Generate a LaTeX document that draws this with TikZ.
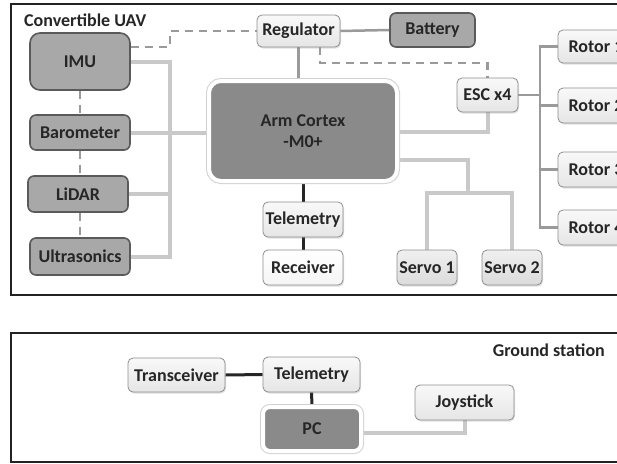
\documentclass[tikz,border=0pt]{standalone}
\usepackage{fontspec}
\setmainfont{Carlito}
\usetikzlibrary{backgrounds,shadows,calc}
\definecolor{midfill}{HTML}{A8A8A8}
\definecolor{midline}{HTML}{5A5A5A}
\definecolor{lightline}{HTML}{8E8E8E}
\definecolor{busc}{HTML}{C9C9C9}
\definecolor{wirec}{HTML}{9A9A9A}
\definecolor{corec}{HTML}{8A8A8A}
\definecolor{ink}{HTML}{262626}
\definecolor{framec}{HTML}{222222}
\tikzset{
  lbl/.style={font=\fontsize{18}{20.5}\selectfont\bfseries, text=ink, align=center, inner sep=0pt},
  midbox/.style={lbl, rounded corners=6pt, fill=midfill, draw=midline, line width=1.6pt},
  lightbox/.style={lbl, rounded corners=5pt, top color=white!95!gray, bottom color=white!80!gray, draw=lightline, line width=0.8pt,
    drop shadow={shadow xshift=1pt, shadow yshift=-1.5pt, opacity=0.25}},
  servobox/.style={lightbox, top color=white!88!gray, bottom color=white!72!gray},
  recbox/.style={lightbox, top color=white, bottom color=white!92!gray},
  corebox/.style={lbl, rounded corners=12pt, fill=corec, draw=white, line width=4pt,
    preaction={draw=gray!35, line width=6pt}},
  lightbus/.style={draw=busc, line width=4pt},
  graywire/.style={draw=wirec, line width=2.5pt},
  dashwire/.style={draw=wirec, line width=2.6pt, dash pattern=on 8pt off 6pt},
  blackwire/.style={draw=ink, line width=3pt},
  framebox/.style={draw=framec, line width=2.4pt},
}
\begin{document}
\begin{tikzpicture}[x=1pt,y=-1pt]
\useasboundingbox (0,0) rectangle (617,463);
\clip (0,0) rectangle (617,463);
% frames
\draw[framebox] (11,4) rectangle (660,295);
\draw[framebox] (11,333) rectangle (660,462);
% titles
\node[lbl, anchor=west] (uav) at (24,20) {Convertible UAV};
\node[lbl, anchor=east] (gs) at (605,350) {Ground station};
% UAV nodes
\node[midbox, rounded corners=10pt, minimum width=100pt, minimum height=57pt] (imu) at (80,61.5) {IMU};
\node[midbox, minimum width=100pt, minimum height=35pt] (baro) at (80,132.5) {Barometer};
\node[midbox, minimum width=100pt, minimum height=36pt] (lidar) at (78,194) {LiDAR};
\node[midbox, minimum width=100pt, minimum height=37pt] (ultra) at (80,256.5) {Ultrasonics};
\node[lightbox, minimum width=83pt, minimum height=32pt] (reg) at (298.5,31) {Regulator};
\node[midbox, minimum width=85pt, minimum height=34pt] (bat) at (432.5,30) {Battery};
\node[lightbox, minimum width=61pt, minimum height=34pt] (esc) at (487.5,95) {ESC x4};
\node[lightbox, minimum width=76pt, minimum height=33pt] (r1) at (596,46.5) {Rotor 1};
\node[lightbox, minimum width=76pt, minimum height=35pt] (r2) at (596,105.5) {Rotor 2};
\node[lightbox, minimum width=76pt, minimum height=35pt] (r3) at (596,169.5) {Rotor 3};
\node[lightbox, minimum width=76pt, minimum height=35pt] (r4) at (596,227.5) {Rotor 4};
\node[corebox, minimum width=188pt, minimum height=100pt] (arm) at (303,131) {Arm Cortex\\-M0+};
\node[lightbox, minimum width=80pt, minimum height=35pt] (tel) at (303,219.5) {Telemetry};
\node[recbox, minimum width=80pt, minimum height=35pt] (rec) at (303,267.5) {Receiver};
\node[servobox, minimum width=60pt, minimum height=35pt] (s1) at (427,267.5) {Servo 1};
\node[servobox, minimum width=60pt, minimum height=35pt] (s2) at (512,267.5) {Servo 2};
% ground station nodes
\node[lightbox, minimum width=97pt, minimum height=34pt] (trans) at (176.5,375) {Transceiver};
\node[lightbox, minimum width=97pt, minimum height=35pt] (gtel) at (311.5,374.5) {Telemetry};
\node[corebox, rounded corners=7pt, minimum width=98pt, minimum height=44pt] (pc) at (312,429) {PC};
\node[lightbox, minimum width=99pt, minimum height=35pt] (joy) at (464.5,402.5) {Joystick};
% junctions
\coordinate (jA) at (170,47);
\coordinate (jB) at (170,62);
\coordinate (jD) at (320,63);
\coordinate (jE) at (487.5,132);
\coordinate (jF) at (468,160);
\coordinate (jG) at (468,193);
\coordinate (jH) at (540,95);
\coordinate (jI) at (464.5,433);
\begin{pgfonlayer}{background}
% dashed power lines
\draw[dashwire] (imu.east |- jA) -- (jA) |- (reg.west);
\draw[dashwire] (imu.south) -- (baro.north);
\draw[dashwire] (baro.south) -- (baro.south |- lidar.north);
\draw[dashwire] (baro.south |- lidar.south) -- (ultra.north);
\draw[dashwire] (reg.south -| jD) -- (jD) -| (esc.north);
% sensor bus
\draw[lightbus] (imu.east |- jB) -- (jB) -- (jB |- ultra.east) -- (ultra.east);
\draw[lightbus] (baro.east) -- (baro.east -| arm.west);
\draw[lightbus] (lidar.east) -- (lidar.east -| jB);
% regulator and battery
\draw[graywire] (reg.south) -- (reg.south |- arm.north);
\draw[graywire] (reg.east) -- (bat.west);
% ESC
\draw[lightbus] (jE -| arm.east) -- (jE) -- (esc.south);
\draw[graywire] (esc.east) -- (jH);
\draw[graywire] (r1.west) -- (r1.west -| jH) -- (r4.west -| jH) -- (r4.west);
\draw[graywire] (r2.west) -- (r2.west -| jH);
\draw[graywire] (r3.west) -- (r3.west -| jH);
% servos
\draw[lightbus] (jF -| arm.east) -- (jF) -- (jG);
\draw[lightbus] (s1.north) -- (s1.north |- jG) -- (s2.north |- jG) -- (s2.north);
% telemetry chain
\draw[blackwire] (arm.south) -- (tel.north);
\draw[blackwire] (tel.south) -- (rec.north);
% ground station
\draw[blackwire] (trans.east) -- (gtel.west);
\draw[blackwire] (gtel.south) -- (pc.north);
\draw[lightbus] (pc.east |- jI) -- (jI) -- (joy.south);
\end{pgfonlayer}
\end{tikzpicture}
\end{document}
